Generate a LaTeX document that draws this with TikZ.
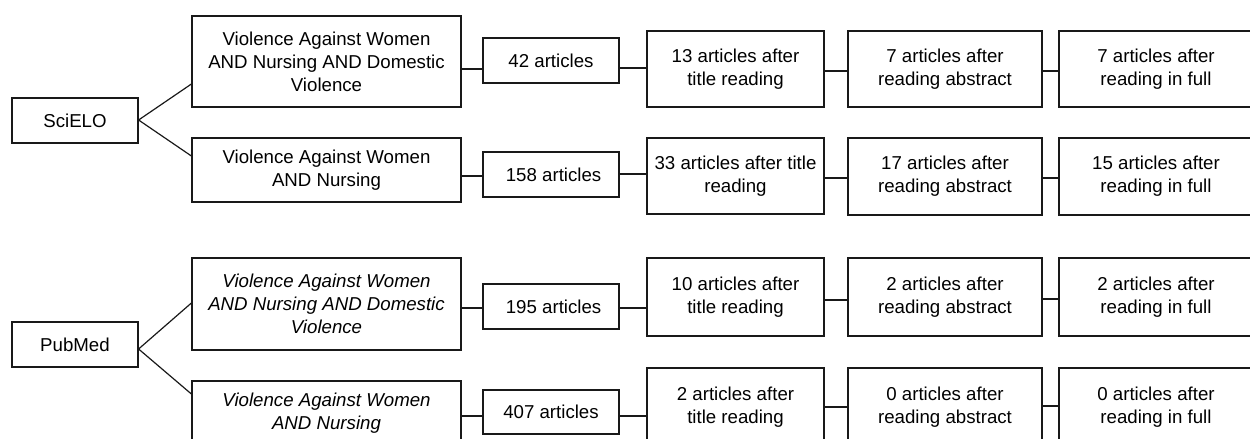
\documentclass[tikz,border=0pt]{standalone}
\usepackage{fontspec}
\setmainfont{Liberation Sans}
\begin{document}
\begin{tikzpicture}[x=0.75pt,y=-0.75pt,
  bx/.style={draw=black!90, line width=0.9pt, inner sep=0pt, align=center,
    font=\fontsize{14}{17.25}\selectfont},
  src/.style={bx, minimum width=94.5pt, minimum height=33.75pt},
  qry/.style={bx, minimum width=201.75pt},
  cnt/.style={bx, minimum width=102pt, minimum height=33.75pt},
  ttl/.style={bx, minimum width=132.75pt},
  abs/.style={bx, minimum width=145.5pt},
  conn/.style={draw=black!90, line width=0.9pt}]
\useasboundingbox (0,0) rectangle (1250,439);
\clip (0,0) rectangle (1250,439);

% sources
\node[src] (sci) at (75,120.5) {SciELO};
\node[src] (pub) at (75,344.5) {PubMed};

% queries
\node[qry, minimum height=68.25pt] (q1) at (326.5,61.5) {Violence Against Women\\AND Nursing AND Domestic\\Violence};
\node[qry, minimum height=48pt] (q2) at (326.5,170) {Violence Against Women\\AND Nursing};
\node[qry, minimum height=69pt] (q3) at (326.5,304) {\itshape Violence Against Women\\\itshape AND Nursing AND Domestic\\\itshape Violence};
\node[qry, minimum height=48pt] (q4) at (326.5,413) {\itshape Violence Against Women\\\itshape AND Nursing};

% counts
\node[cnt] (n1) at (551,60.5) {42 articles};
\node[cnt] (n2) at (551,174.5) {\ 158 articles};
\node[cnt] (n3) at (551,306.5) {\ 195 articles};
\node[cnt, minimum height=33pt] (n4) at (551,412) {407 articles};

% title reading
\node[ttl, minimum height=57pt] (t1) at (735.5,69) {13 articles after\\title reading};
\node[ttl, minimum height=57pt] (t2) at (735.5,176) {33 articles after title\\reading};
\node[ttl, minimum height=58.5pt] (t3) at (735.5,297) {10 articles after\\title reading};
\node[ttl, minimum height=58.5pt] (t4) at (735.5,407) {2 articles after\\title reading};

% abstract
\node[abs, minimum height=57pt] (a1) at (945,69) {7 articles after\\reading abstract};
\node[abs, minimum height=57.75pt] (a2) at (945,176.5) {17 articles after\\reading abstract};
\node[abs, minimum height=58.5pt] (a3) at (945,297) {2 articles after\\reading abstract};
\node[abs, minimum height=58.5pt] (a4) at (945,407) {0 articles after\\reading abstract};

% full reading
\node[abs, minimum height=57pt] (f1) at (1156,69) {7 articles after\\reading in full};
\node[abs, minimum height=57.75pt] (f2) at (1156,176.5) {15 articles after\\reading in full};
\node[abs, minimum height=58.5pt] (f3) at (1156,297) {2 articles after\\reading in full};
\node[abs, minimum height=58.5pt] (f4) at (1156,407) {0 articles after\\reading in full};

% branches
\draw[conn] (q1.west |- 0,84) -- (sci.east |- 0,120) -- (q2.west |- 0,156);
\draw[conn] (q3.west |- 0,303) -- (pub.east |- 0,349) -- (q4.west |- 0,394);

% row connectors
\draw[conn] (q1.east |- 0,69) -- (n1.west |- 0,69);
\draw[conn] (n1.east |- 0,68) -- (t1.west |- 0,68);
\draw[conn] (t1.east |- 0,71) -- (a1.west |- 0,71);
\draw[conn] (a1.east |- 0,71) -- (f1.west |- 0,71);

\draw[conn] (q2.east |- 0,176) -- (n2.west |- 0,176);
\draw[conn] (n2.east |- 0,174) -- (t2.west |- 0,174);
\draw[conn] (t2.east |- 0,178) -- (a2.west |- 0,178);
\draw[conn] (a2.east |- 0,178) -- (f2.west |- 0,178);

\draw[conn] (q3.east |- 0,308) -- (n3.west |- 0,308);
\draw[conn] (n3.east |- 0,308) -- (t3.west |- 0,308);
\draw[conn] (t3.east |- 0,300) -- (a3.west |- 0,300);
\draw[conn] (a3.east |- 0,299) -- (f3.west |- 0,299);

\draw[conn] (q4.east |- 0,416) -- (n4.west |- 0,416);
\draw[conn] (n4.east |- 0,416) -- (t4.west |- 0,416);
\draw[conn] (t4.east |- 0,407) -- (a4.west |- 0,407);
\draw[conn] (a4.east |- 0,406) -- (f4.west |- 0,406);
\end{tikzpicture}
\end{document}
